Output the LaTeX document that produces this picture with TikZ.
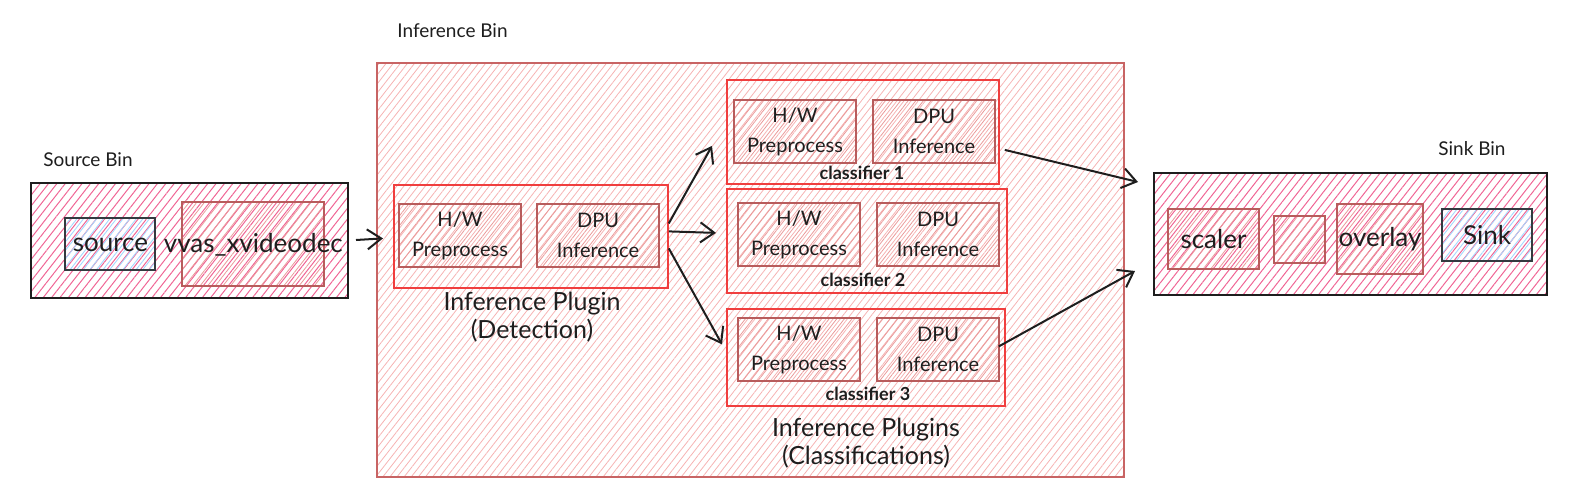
\documentclass[tikz,border=0pt]{standalone}
\usepackage{fontspec}
\setmainfont{Lato}
\usetikzlibrary{arrows.meta,calc,patterns.meta}
\definecolor{binpink}{HTML}{F06595}
\definecolor{infpink}{HTML}{F6B3B3}
\definecolor{infedge}{HTML}{C86464}
\definecolor{rededge}{HTML}{F03E3E}
\definecolor{unitedge}{HTML}{B85C5C}
\definecolor{unitpink}{HTML}{EA9A9A}
\definecolor{bluehatch}{HTML}{A5D8FF}
\definecolor{grayedge}{HTML}{343A40}
\definecolor{ink}{HTML}{1E1E1E}
\tikzset{
  pinkbin/.style={draw=ink, line width=1pt, inner sep=0pt, anchor=north west,
    pattern={Lines[angle=52,distance=3.3pt,line width=0.5pt]}, pattern color=binpink},
  infbin/.style={draw=infedge, line width=1pt, inner sep=0pt, anchor=north west,
    pattern={Lines[angle=52,distance=2.8pt,line width=0.4pt]}, pattern color=infpink},
  redbox/.style={draw=rededge, line width=0.9pt, inner sep=0pt, anchor=north west},
  unitbox/.style={draw=unitedge, line width=1pt, inner sep=0pt, anchor=north west,
    minimum width=61pt, minimum height=31.5pt, align=center, text=ink,
    font=\fontsize{10}{15}\selectfont,
    pattern={Lines[angle=52,distance=3pt,line width=0.4pt]}, pattern color=unitpink},
  bluebox/.style={draw=grayedge, line width=1pt, inner sep=0pt, anchor=north west, text=ink,
    font=\fontsize{13}{15}\selectfont,
    pattern={Lines[angle=52,distance=2.6pt,line width=0.45pt]}, pattern color=bluehatch},
  bigtxt/.style={text=ink, inner sep=0pt, font=\fontsize{13}{15}\selectfont},
  binlbl/.style={text=ink, inner sep=0pt, anchor=west, font=\fontsize{9.5}{11}\selectfont},
  plugtxt/.style={text=ink, inner sep=0pt, align=center, font=\fontsize{12.5}{14}\selectfont},
  clstxt/.style={text=ink, inner sep=0pt, font=\bfseries\fontsize{9}{11}\selectfont},
  arr/.style={draw=ink, line width=1pt, -{Straight Barb[length=7pt,width=10pt]}}
}
\begin{document}
\begin{tikzpicture}[x=0.5pt,y=-0.5pt]
\useasboundingbox (0,0) rectangle (1574,503);
% source bin
\node[pinkbin, minimum width=158.5pt, minimum height=57.5pt] (srcbin) at (30,182) {};
\node[binlbl] (srclbl) at (43,160) {Source Bin};
\node[bluebox, minimum width=45pt, minimum height=26pt] (src) at (65,218) {source};
\node[unitbox, minimum width=71pt, minimum height=42pt] (dec) at (182,202) {};
\node[bigtxt] (dectxt) at (dec.center) {vvas\_xvideodec};
% inference bin
\node[infbin, minimum width=373.5pt, minimum height=207pt] (inf) at (377,63) {};
\node[binlbl] (inflbl) at (397,31) {Inference Bin};
\node[redbox, minimum width=137pt, minimum height=51.5pt] (det) at (393,184) {};
\node[unitbox] (dethw) at (398,203) {H/W\\Preprocess};
\node[unitbox] (detdpu) at (536,203) {DPU\\Inference};
\node[plugtxt] (detlbl) at (532,317) {Inference Plugin\\(Detection)};
% classifiers
\node[redbox, minimum width=136pt, minimum height=52pt] (c1) at (726,79) {};
\node[unitbox] (c1hw) at (733,99) {H/W\\Preprocess};
\node[unitbox] (c1dpu) at (872,99) {DPU\\Inference};
\node[clstxt] (c1lbl) at (862,173) {classifier 1};
\node[redbox, minimum width=140pt, minimum height=52pt] (c2) at (726,188) {};
\node[unitbox] (c2hw) at (737,202) {H/W\\Preprocess};
\node[unitbox] (c2dpu) at (876,202) {DPU\\Inference};
\node[clstxt] (c2lbl) at (863,280) {classifier 2};
\node[redbox, minimum width=139pt, minimum height=48.5pt] (c3) at (726,308) {};
\node[unitbox] (c3hw) at (737,317) {H/W\\Preprocess};
\node[unitbox] (c3dpu) at (876,317) {DPU\\Inference};
\node[clstxt] (c3lbl) at (868,394) {classifier 3};
\node[plugtxt] (clslbl) at (866,443) {Inference Plugins\\(Classifications)};
% sink bin
\node[pinkbin, minimum width=196.5pt, minimum height=61pt] (snkbin) at (1153,172) {};
\node[binlbl] (snklbl) at (1438,149) {Sink Bin};
\node[unitbox, minimum width=45.5pt, minimum height=30pt, font=\fontsize{13}{15}\selectfont] (scl) at (1167,208) {scaler};
\node[unitbox, minimum width=25.5pt, minimum height=23.5pt] (blank) at (1273,215) {};
\node[unitbox, minimum width=43pt, minimum height=35pt] (ovl) at (1336,203) {};
\node[bigtxt] (ovltxt) at (ovl.center) {overlay};
\node[bluebox, minimum width=45pt, minimum height=26pt] (snk) at (1441,208) {Sink};
% arrows
\draw[arr] ($(srcbin.east)+(8,0)$) -- ($(inf.west)+(6,-32)$);
\draw[arr] ($(det.east)+(0,-13)$) -- ($(c1.west)+(-14,14)$);
\draw[arr] ($(det.east)+(0,-5)$) -- ($(c2.west)+(-10,-8)$);
\draw[arr] ($(det.east)+(0,12)$) -- ($(c3.west)+(-4,-13)$);
\draw[arr] ($(c1.east)+(5,18)$) -- ($(snkbin.north west)+(-15,10)$);
\draw[arr] ($(c3.east)+(-7,-11)$) -- ($(snkbin.west)+(-18,37)$);
\end{tikzpicture}
\end{document}
